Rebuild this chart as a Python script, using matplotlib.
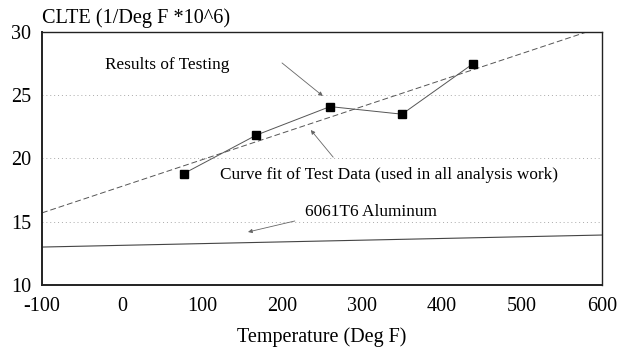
import matplotlib
matplotlib.use("Agg")
import matplotlib.pyplot as plt

# Data
test_temp = [77, 168, 260, 350, 439]
test_clte = [18.8, 21.85, 24.1, 23.5, 27.5]
fit_temp = [-100, 600]
fit_clte = [15.7, 30.4]
alum_temp = [-100, 600]
alum_clte = [13.0, 13.95]
xticks = [-100, 0, 100, 200, 300, 400, 500, 600]
yticks = [10, 15, 20, 25, 30]

plt.rcParams['font.family'] = ['Liberation Serif', 'DejaVu Serif']
plt.rcParams['axes.unicode_minus'] = False

fig = plt.figure(figsize=(6.24, 3.51), dpi=100)
ax = fig.add_axes([0.0673, 0.188, 0.8975, 0.721])

for yv in [15, 20, 25]:
    ax.axhline(yv, color='#aaaaaa', lw=0.7, ls=(0, (1, 3)), zorder=0)

ax.plot(fit_temp, fit_clte, color='#555555', lw=0.7, ls=(0, (6, 3)), zorder=2)
ax.plot(alum_temp, alum_clte, color='#444444', lw=0.8, zorder=2)
ax.plot(test_temp, test_clte, color='#555555', lw=0.7, marker='s', ms=5.5,
        mfc='black', mec='black', zorder=3)

ax.set_xlim(-100, 600)
ax.set_ylim(10, 30)
ax.set_xticks(xticks)
ax.set_yticks(yticks)
ax.tick_params(length=0, labelsize=14.5)
ax.tick_params(axis='x', pad=8.5)
ax.tick_params(axis='y', pad=8)
for name, s in ax.spines.items():
    s.set_color('#222222')
    s.set_linewidth(1.4 if name in ('left', 'bottom') else 1.0)

ax.set_xlabel('Temperature (Deg F)', fontsize=14.5, labelpad=8)
fig.text(0.0673, 0.948, 'CLTE (1/Deg F *10^6)', fontsize=14.6, ha='left', va='center')

arrowprops = dict(arrowstyle='-|>', color='#666666', lw=0.6, mutation_scale=6,
                  shrinkA=0, shrinkB=0)
ax.annotate('', xy=(251, 24.94), xytext=(200, 27.55), arrowprops=arrowprops)
ax.annotate('', xy=(236, 22.25), xytext=(264, 20.1), arrowprops=arrowprops)
ax.annotate('', xy=(157.5, 14.19), xytext=(216, 15.06), arrowprops=arrowprops)

ax.text(-21, 27.4, 'Results of Testing', fontsize=12.4, va='center', ha='left')
ax.text(122.5, 18.7, 'Curve fit of Test Data (used in all analysis work)',
        fontsize=12.4, va='center', ha='left')
ax.text(229, 15.77, '6061T6 Aluminum', fontsize=12.4, va='center', ha='left')

fig.savefig('out.png', dpi=100)
